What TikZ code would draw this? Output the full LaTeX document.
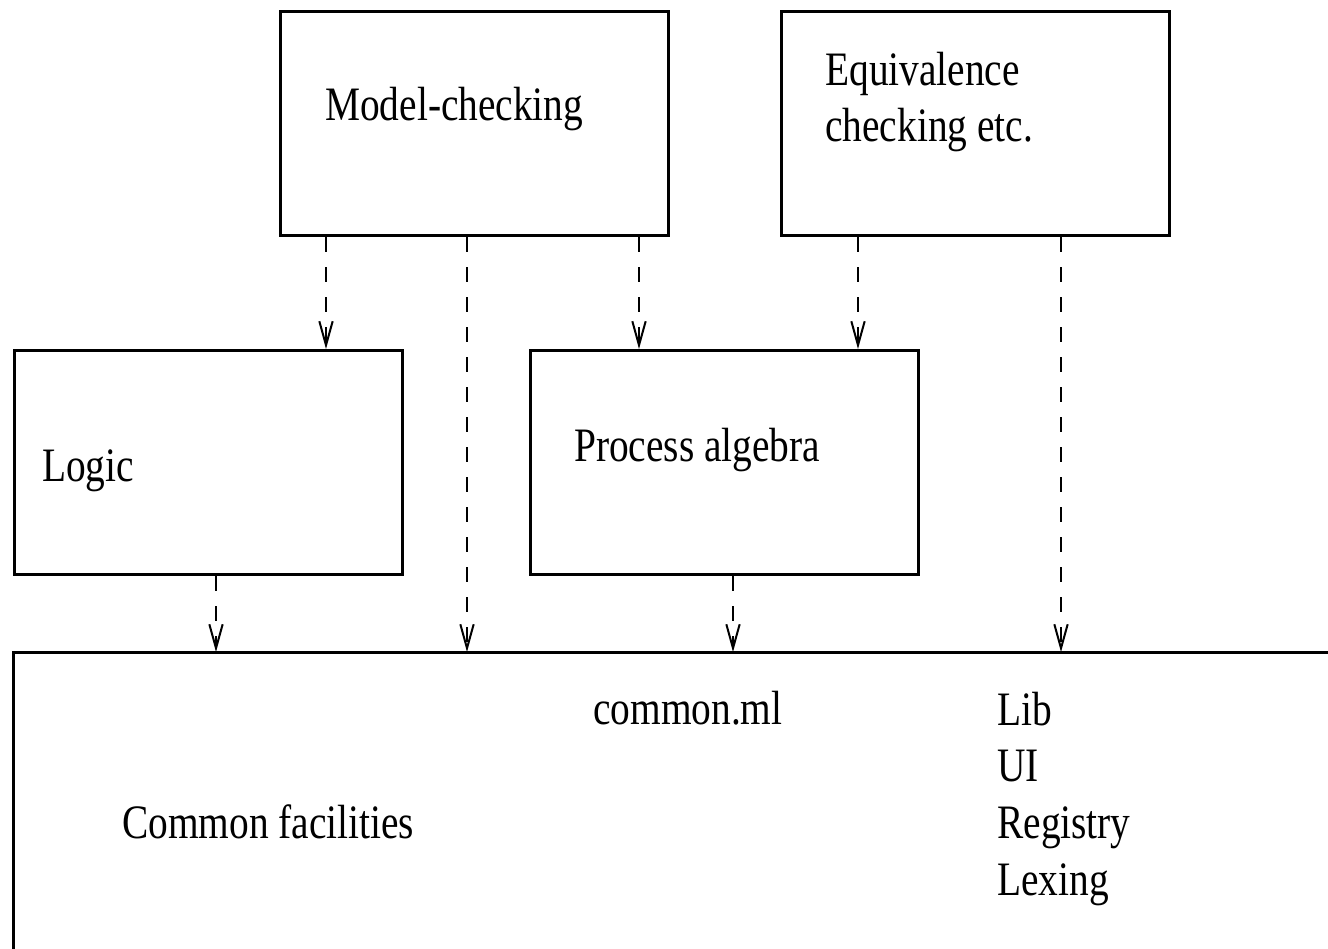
\documentclass[tikz,border=0pt]{standalone}
\usepackage{fontspec}
\setmainfont{Liberation Serif}
\usetikzlibrary{arrows.meta}
\newcommand{\narrowtxt}[1]{\scalebox{0.82}[1]{#1}}
\begin{document}
\begin{tikzpicture}[x=0.75pt,y=-0.75pt,
  box/.style={draw,line width=2.25pt,minimum width=291pt,minimum height=168pt,inner sep=0pt},
  lbl/.style={anchor=base west,inner sep=0pt,font=\fontsize{36pt}{43pt}\selectfont},
  dep/.style={line width=1.5pt,dash pattern=on 11.25pt off 11.25pt,-{Straight Barb[length=18pt,width=10pt,line width=1.5pt]}},
  edge/.style={line width=2.25pt}]
\useasboundingbox (0,0) rectangle (1328,949);
\clip (0,0) rectangle (1328,949);
\fill[white] (0,0) rectangle (1328,949);

% boxes
\node[box] (mc) at (474.5,123.5) {};
\node[box] (eq) at (975,123.5) {};
\node[box] (logic) at (208.5,462.5) {};
\node[box] (pa) at (724.5,462.5) {};
\node[anchor=north west,inner sep=0pt,minimum width=1050pt,minimum height=250pt] (base) at (13.5,652) {};
\draw[edge] (base.south west) -- (base.north west) -- (base.north east);

% labels
\node[lbl] (tmc) at (325,121) {\narrowtxt{Model-checking}};
\node[lbl] (teq1) at (825,85) {\narrowtxt{Equivalence}};
\node[lbl] (teq2) at (825,142) {\narrowtxt{checking etc.}};
\node[lbl] (tlogic) at (42,481) {\narrowtxt{Logic}};
\node[lbl] (tpa) at (574,461) {\narrowtxt{Process algebra}};
\node[lbl] (tcm) at (593,724) {\narrowtxt{common.ml}};
\node[lbl] (tcf) at (122,838) {\narrowtxt{Common facilities}};
\node[lbl] (tlib) at (997,725) {\narrowtxt{Lib}};
\node[lbl] (tui) at (997,781) {\narrowtxt{UI}};
\node[lbl] (treg) at (997,838) {\narrowtxt{Registry}};
\node[lbl] (tlex) at (997,895) {\narrowtxt{Lexing}};

% connector columns
\coordinate (c1) at (326,0);
\coordinate (c2) at (467,0);
\coordinate (c3) at (639,0);
\coordinate (c4) at (858,0);
\coordinate (c5) at (1061,0);
\coordinate (c6) at (216,0);
\coordinate (c7) at (733,0);

\draw[dep] (mc.south -| c1) -- (logic.north -| c1);
\draw[dep] (mc.south -| c2) -- (base.north -| c2);
\draw[dep] (mc.south -| c3) -- (pa.north -| c3);
\draw[dep] (eq.south -| c4) -- (pa.north -| c4);
\draw[dep] (eq.south -| c5) -- (base.north -| c5);
\draw[dep] (logic.south -| c6) -- (base.north -| c6);
\draw[dep] (pa.south -| c7) -- (base.north -| c7);
\end{tikzpicture}
\end{document}
